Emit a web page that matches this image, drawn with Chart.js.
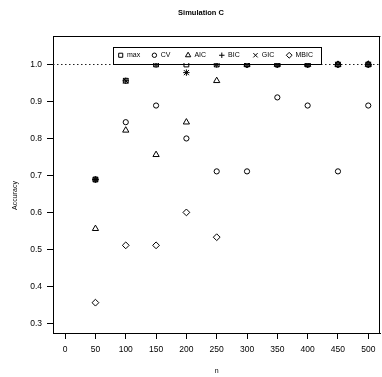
<!DOCTYPE html>
<html><head><meta charset="utf-8">
<script src="https://cdn.jsdelivr.net/npm/chart.js@4/dist/chart.umd.min.js"></script>
<style>html,body{margin:0;padding:0;background:#fff;overflow:hidden;width:382px;height:377px}canvas{display:block}</style>
</head><body>
<canvas id="c" width="385" height="377"></canvas>
<script>
// ---- data ----
const nValues  = [50, 100, 150, 200, 250, 300, 350, 400, 450, 500];
const maxAcc   = [0.689, 0.956, 1.000, 1.000, 1.000, 1.000, 1.000, 1.000, 1.000, 1.000];
const cvAcc    = [0.689, 0.844, 0.889, 0.800, 0.711, 0.711, 0.911, 0.889, 0.711, 0.889];
const aicAcc   = [0.556, 0.822, 0.756, 0.844, 0.956, 1.000, 1.000, 1.000, 1.000, 1.000];
const bicAcc   = [0.689, 0.956, 1.000, 0.978, 1.000, 1.000, 1.000, 1.000, 1.000, 1.000];
const gicAcc   = [0.689, 0.956, 1.000, 0.978, 1.000, 1.000, 1.000, 1.000, 1.000, 1.000];
const mbicAcc  = [0.356, 0.511, 0.511, 0.600, 0.533, 1.000, 1.000, 1.000, 1.000, 1.000];
const seriesLabels = ['max', 'CV', 'AIC', 'BIC', 'GIC', 'MBIC'];
const xTickValues = [0, 50, 100, 150, 200, 250, 300, 350, 400, 450, 500];
const yTickValues = [0.3, 0.4, 0.5, 0.6, 0.7, 0.8, 0.9, 1.0];
const referenceLevel = 1.0;
const chartTitle = 'Simulation C';
const xTitle = 'n';
const yTitle = 'Accuracy';

// ---- styling ----
const FONT = '"Liberation Sans", Arial, Helvetica, sans-serif';
const styles = [
  {pointStyle: 'rect',     radius: 3.4},
  {pointStyle: 'circle',   radius: 2.6},
  {pointStyle: 'triangle', radius: 3.6},
  {pointStyle: 'cross',    radius: 3.2},
  {pointStyle: 'crossRot', radius: 3.6},
  {pointStyle: 'rectRot',  radius: 3.4}
];
const allSeries = [maxAcc, cvAcc, aicAcc, bicAcc, gicAcc, mbicAcc];

const datasets = allSeries.map((arr, i) => ({
  label: seriesLabels[i],
  data: nValues.map((n, j) => ({x: n, y: arr[j]})),
  showLine: false,
  pointStyle: styles[i].pointStyle,
  pointRadius: styles[i].radius,
  pointHoverRadius: styles[i].radius,
  pointBorderWidth: 1,
  borderColor: '#000',
  backgroundColor: 'rgba(0,0,0,0)'
}));

function drawSymbol(ctx, style, radius, x, y) {
  ctx.save();
  ctx.strokeStyle = '#000';
  ctx.fillStyle = 'rgba(0,0,0,0)';
  ctx.lineWidth = 1;
  if (Chart.helpers && Chart.helpers.drawPoint) {
    Chart.helpers.drawPoint(ctx, {pointStyle: style, radius: radius, rotation: 0, borderWidth: 1}, x, y);
  }
  ctx.restore();
}

const framePlugin = {
  id: 'frame',
  beforeDatasetsDraw(chart) {
    const {ctx, chartArea: a, scales: {y}} = chart;
    ctx.save();
    // reference dotted line
    const yy = Math.round(y.getPixelForValue(referenceLevel)) + 0.5;
    ctx.strokeStyle = '#222';
    ctx.lineWidth = 1;
    ctx.setLineDash([1.5, 2.5]);
    ctx.beginPath(); ctx.moveTo(a.left, yy); ctx.lineTo(a.right, yy); ctx.stroke();
    ctx.setLineDash([]);
    // top and right frame
    ctx.strokeStyle = '#000';
    const t = Math.round(a.top) + 0.5;
    ctx.beginPath(); ctx.moveTo(a.left, t); ctx.lineTo(a.right, t); ctx.stroke();
    ctx.beginPath(); ctx.moveTo(Math.round(a.right) - 0.5, a.top); ctx.lineTo(Math.round(a.right) - 0.5, a.bottom); ctx.stroke();
    // y axis title
    ctx.fillStyle = '#000';
    ctx.font = '7px ' + FONT;
    ctx.textAlign = 'center';
    ctx.textBaseline = 'middle';
    ctx.translate(a.left - 38, (a.top + a.bottom) / 2 + 11);
    ctx.rotate(-Math.PI / 2);
    ctx.fillText(yTitle, 0, 0);
    ctx.restore();
  },
  afterDatasetsDraw(chart) {
    const {ctx, chartArea: a} = chart;
    ctx.save();
    ctx.font = '7px ' + FONT;
    const widths = seriesLabels.map(s => ctx.measureText(s).width);
    const maxW = Math.max(...widths);
    const spacing = maxW + 16.2;
    const boxL = a.left + 60, boxT = a.top + 10.5, boxH = 16.5;
    const firstSym = boxL + 7.7;
    const boxR = firstSym + (seriesLabels.length - 1) * spacing + 6.3 + maxW + 8;
    ctx.fillStyle = '#fff';
    ctx.fillRect(boxL, boxT, boxR - boxL, boxH);
    ctx.strokeStyle = '#000';
    ctx.lineWidth = 1;
    ctx.strokeRect(Math.round(boxL) + 0.5, Math.round(boxT) + 0.5, Math.round(boxR - boxL), Math.round(boxH));
    const cy = boxT + boxH / 2 + 0.5;
    seriesLabels.forEach((lab, i) => {
      const sx = firstSym + i * spacing;
      drawSymbol(ctx, styles[i].pointStyle, styles[i].radius * 0.85, sx, cy);
      ctx.fillStyle = '#000';
      ctx.textAlign = 'left';
      ctx.textBaseline = 'middle';
      ctx.fillText(lab, sx + 6.3, cy);
    });
    ctx.restore();
  }
};

new Chart(document.getElementById('c'), {
  type: 'scatter',
  data: {datasets},
  plugins: [framePlugin],
  options: {
    responsive: false,
    animation: false,
    events: [],
    layout: {padding: {left: 17, top: 0, right: 0, bottom: 0}},
    plugins: {
      legend: {display: false},
      tooltip: {enabled: false},
      title: {
        display: true, text: chartTitle, color: '#000',
        font: {family: FONT, size: 7.5, weight: 'bold', lineHeight: 1.2},
        padding: {top: 8.5, bottom: 18.5}
      }
    },
    scales: {
      x: {
        type: 'linear', min: -20, max: 520,
        afterBuildTicks: s => { s.ticks = xTickValues.map(v => ({value: v})); },
        afterFit: s => { s.height = 44; },
        grid: {drawOnChartArea: false, drawTicks: true, tickLength: 6, color: '#000', lineWidth: 1},
        border: {display: true, color: '#000', width: 1},
        ticks: {color: '#000', font: {family: FONT, size: 8.5}, padding: 6, maxRotation: 0, autoSkip: false},
        title: {display: true, text: xTitle, color: '#000', font: {family: FONT, size: 7}, padding: {top: 0, bottom: 2}}
      },
      y: {
        type: 'linear', min: 0.274, max: 1.077,
        afterBuildTicks: s => { s.ticks = yTickValues.map(v => ({value: v})); },
        afterFit: s => { s.width = 36; },
        grid: {drawOnChartArea: false, drawTicks: true, tickLength: 6, color: '#000', lineWidth: 1},
        border: {display: true, color: '#000', width: 1},
        ticks: {color: '#000', font: {family: FONT, size: 8.5}, padding: 5, callback: v => v.toFixed(1)}
      }
    }
  }
});
</script>
</body></html>
